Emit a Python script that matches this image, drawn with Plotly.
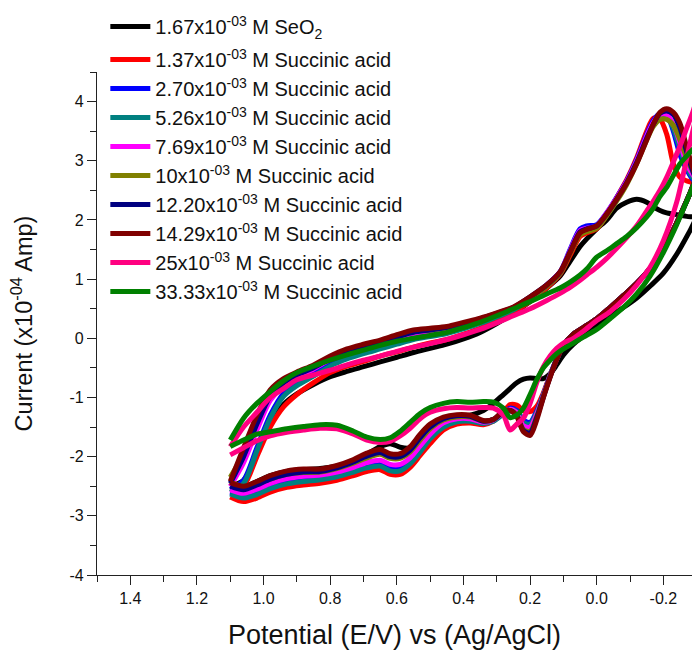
import plotly.graph_objects as go

# Potential grid (V vs Ag/AgCl): forward sweep 1.1 V -> -0.32 V, then reverse sweep back to 1.1 V
fwd_potential = [1.10, 1.06, 1.02, 0.98, 0.93, 0.88, 0.83, 0.78, 0.73, 0.69, 0.65, 0.62, 0.59, 0.56,
                 0.53, 0.50, 0.46, 0.42, 0.38, 0.34, 0.31, 0.28, 0.26, 0.24, 0.22, 0.20, 0.18, 0.16,
                 0.14, 0.12, 0.10, 0.07, 0.04, 0.00, -0.04, -0.08, -0.12, -0.16, -0.20, -0.24, -0.28, -0.32]
rev_potential = [-0.32, -0.29, -0.27, -0.25, -0.23, -0.21, -0.19, -0.17, -0.15, -0.12, -0.09, -0.06,
                 -0.03, 0.00, 0.03, 0.05, 0.08, 0.11, 0.15, 0.20, 0.25, 0.30, 0.35, 0.40, 0.45, 0.50,
                 0.55, 0.60, 0.65, 0.70, 0.75, 0.80, 0.85, 0.90, 0.94, 0.98, 1.02, 1.06, 1.10]

# Current (x10^-4 A), forward sweep
seo2_fwd = [-2.45, -2.5, -2.42, -2.32, -2.25, -2.22, -2.2, -2.16, -2.1, -1.96, -1.83, -1.78, -1.84, -1.85,
            -1.7, -1.5, -1.36, -1.31, -1.3, -1.22, -1.1, -0.95, -0.85, -0.75, -0.69, -0.67, -0.68, -0.68,
            -0.6, -0.45, -0.28, -0.1, 0.04, 0.22, 0.38, 0.52, 0.68, 0.88, 1.1, 1.42, 1.82, 2.25]
sa137_fwd = [-2.68, -2.76, -2.7, -2.6, -2.52, -2.48, -2.45, -2.4, -2.32, -2.25, -2.22, -2.3, -2.3, -2.18,
             -1.98, -1.78, -1.55, -1.45, -1.43, -1.46, -1.4, -1.25, -1.12, -1.13, -1.22, -1.24, -1.15, -0.92,
             -0.62, -0.35, -0.12, 0.07, 0.18, 0.33, 0.52, 0.72, 0.93, 1.18, 1.5, 1.95, 2.45, 3.0]
sa270_fwd = [-2.6, -2.66, -2.6, -2.5, -2.42, -2.38, -2.35, -2.3, -2.22, -2.15, -2.12, -2.2, -2.2, -2.08,
             -1.88, -1.66, -1.46, -1.38, -1.37, -1.42, -1.38, -1.26, -1.18, -1.22, -1.38, -1.42, -1.23, -0.95,
             -0.63, -0.35, -0.12, 0.07, 0.18, 0.33, 0.52, 0.72, 0.93, 1.18, 1.5, 1.95, 2.45, 3.0]
sa526_fwd = [-2.63, -2.7, -2.64, -2.54, -2.46, -2.42, -2.39, -2.34, -2.26, -2.19, -2.16, -2.24, -2.24, -2.12,
             -1.92, -1.7, -1.5, -1.41, -1.4, -1.44, -1.4, -1.28, -1.2, -1.24, -1.42, -1.45, -1.25, -0.95,
             -0.63, -0.35, -0.12, 0.07, 0.18, 0.33, 0.52, 0.72, 0.93, 1.18, 1.5, 1.95, 2.45, 3.0]
sa769_fwd = [-2.56, -2.62, -2.55, -2.45, -2.37, -2.33, -2.31, -2.26, -2.18, -2.1, -2.06, -2.13, -2.13, -2.02,
             -1.82, -1.62, -1.43, -1.36, -1.36, -1.42, -1.38, -1.25, -1.2, -1.26, -1.48, -1.5, -1.28, -0.97,
             -0.64, -0.35, -0.12, 0.07, 0.18, 0.33, 0.52, 0.72, 0.93, 1.18, 1.5, 1.95, 2.45, 3.0]
sa10_fwd = [-2.42, -2.52, -2.46, -2.38, -2.3, -2.27, -2.26, -2.2, -2.11, -2.02, -1.96, -2.03, -2.03, -1.92,
            -1.72, -1.53, -1.38, -1.33, -1.33, -1.4, -1.37, -1.24, -1.22, -1.3, -1.54, -1.57, -1.32, -0.98,
            -0.65, -0.35, -0.12, 0.07, 0.18, 0.33, 0.52, 0.72, 0.93, 1.18, 1.5, 1.95, 2.45, 3.0]
sa1220_fwd = [-2.5, -2.56, -2.48, -2.38, -2.3, -2.26, -2.25, -2.19, -2.09, -1.99, -1.93, -2.0, -2.0, -1.89,
              -1.68, -1.5, -1.36, -1.31, -1.32, -1.4, -1.37, -1.24, -1.22, -1.31, -1.56, -1.6, -1.34, -0.99,
              -0.65, -0.35, -0.12, 0.07, 0.18, 0.33, 0.52, 0.72, 0.93, 1.18, 1.5, 1.95, 2.45, 3.0]
sa1429_fwd = [-2.44, -2.5, -2.42, -2.32, -2.24, -2.21, -2.21, -2.15, -2.05, -1.94, -1.88, -1.95, -1.95, -1.83,
              -1.62, -1.45, -1.33, -1.29, -1.3, -1.39, -1.37, -1.23, -1.22, -1.32, -1.58, -1.64, -1.38, -1.0,
              -0.66, -0.36, -0.12, 0.07, 0.18, 0.33, 0.52, 0.72, 0.93, 1.18, 1.5, 1.95, 2.45, 3.0]
sa25_fwd = [-1.97, -1.85, -1.73, -1.65, -1.59, -1.55, -1.52, -1.53, -1.62, -1.72, -1.76, -1.74, -1.65, -1.52,
            -1.36, -1.25, -1.19, -1.17, -1.18, -1.17, -1.18, -1.3, -1.55, -1.45, -1.35, -1.1, -0.75, -0.48,
            -0.3, -0.17, -0.08, 0.0, 0.12, 0.3, 0.45, 0.65, 0.9, 1.2, 1.65, 2.3, 3.3, 4.3]
sa3333_fwd = [-1.83, -1.72, -1.62, -1.58, -1.53, -1.49, -1.46, -1.47, -1.57, -1.67, -1.71, -1.68, -1.57, -1.42,
              -1.27, -1.17, -1.1, -1.07, -1.08, -1.07, -1.08, -1.18, -1.34, -1.3, -1.18, -0.95, -0.7, -0.5,
              -0.37, -0.26, -0.18, -0.08, 0.02, 0.15, 0.33, 0.52, 0.75, 1.05, 1.45, 1.92, 2.45, 3.0]

# Current (x10^-4 A), reverse sweep
seo2_rev = [2.03, 2.05, 2.06, 2.08, 2.1, 2.12, 2.16, 2.22, 2.3, 2.35, 2.3, 2.2, 2.0, 1.85, 1.68, 1.55, 1.3,
            1.05, 0.85, 0.62, 0.42, 0.25, 0.1, -0.01, -0.1, -0.17, -0.24, -0.32, -0.4, -0.48, -0.56, -0.65,
            -0.78, -0.94, -1.12, -1.45, -1.95, -2.4, -2.5]
sa137_rev = [2.6, 2.63, 2.66, 2.72, 2.95, 3.45, 3.7, 3.72, 3.5, 3.05, 2.68, 2.38, 2.08, 1.85, 1.78, 1.72, 1.4,
             1.08, 0.85, 0.62, 0.44, 0.3, 0.17, 0.07, -0.02, -0.08, -0.15, -0.23, -0.3, -0.39, -0.47, -0.58,
             -0.75, -0.95, -1.16, -1.5, -2.0, -2.5, -2.6]
sa270_rev = [2.55, 2.67, 2.85, 3.1, 3.5, 3.78, 3.8, 3.68, 3.45, 3.02, 2.66, 2.38, 2.12, 1.92, 1.9, 1.85, 1.5,
             1.12, 0.9, 0.68, 0.5, 0.38, 0.27, 0.18, 0.1, 0.05, 0.0, -0.07, -0.15, -0.23, -0.32, -0.43, -0.6,
             -0.76, -0.93, -1.3, -1.85, -2.4, -2.55]
sa526_rev = [2.55, 2.7, 2.9, 3.2, 3.55, 3.75, 3.75, 3.63, 3.4, 3.0, 2.64, 2.36, 2.1, 1.88, 1.84, 1.8, 1.47,
             1.1, 0.88, 0.66, 0.48, 0.36, 0.25, 0.16, 0.08, 0.03, -0.02, -0.1, -0.18, -0.26, -0.35, -0.47,
             -0.64, -0.8, -0.98, -1.35, -1.9, -2.45, -2.6]
sa769_rev = [2.5, 2.75, 2.95, 3.3, 3.62, 3.78, 3.78, 3.65, 3.42, 3.0, 2.65, 2.37, 2.12, 1.9, 1.86, 1.82, 1.48,
             1.12, 0.9, 0.69, 0.51, 0.4, 0.3, 0.22, 0.15, 0.11, 0.08, 0.0, -0.08, -0.16, -0.25, -0.36, -0.52,
             -0.66, -0.8, -1.05, -1.55, -2.1, -2.5]
sa10_rev = [2.5, 2.8, 3.05, 3.35, 3.6, 3.7, 3.7, 3.58, 3.35, 2.95, 2.6, 2.32, 2.07, 1.86, 1.8, 1.75, 1.43,
            1.1, 0.88, 0.68, 0.51, 0.41, 0.32, 0.25, 0.18, 0.14, 0.11, 0.03, -0.05, -0.13, -0.21, -0.33,
            -0.48, -0.6, -0.72, -0.93, -1.4, -1.95, -2.35]
sa1220_rev = [2.45, 2.8, 3.15, 3.55, 3.78, 3.84, 3.8, 3.62, 3.38, 2.97, 2.63, 2.35, 2.1, 1.9, 1.85, 1.8, 1.46,
              1.12, 0.9, 0.7, 0.52, 0.42, 0.33, 0.25, 0.18, 0.14, 0.1, 0.02, -0.06, -0.14, -0.22, -0.34,
              -0.5, -0.62, -0.75, -0.98, -1.45, -2.0, -2.45]
sa1429_rev = [2.4, 2.85, 3.23, 3.63, 3.82, 3.88, 3.82, 3.62, 3.35, 2.95, 2.62, 2.35, 2.1, 1.9, 1.84, 1.78,
              1.45, 1.12, 0.9, 0.7, 0.53, 0.43, 0.34, 0.27, 0.2, 0.17, 0.14, 0.06, -0.03, -0.1, -0.18, -0.3,
              -0.45, -0.57, -0.68, -0.87, -1.3, -1.85, -2.42]
sa25_rev = [4.4, 3.85, 3.55, 3.25, 2.98, 2.72, 2.5, 2.32, 2.15, 1.9, 1.7, 1.52, 1.35, 1.2, 1.07, 0.98, 0.86,
            0.76, 0.64, 0.5, 0.38, 0.26, 0.15, 0.06, -0.02, -0.09, -0.15, -0.22, -0.3, -0.37, -0.45, -0.54,
            -0.62, -0.7, -0.85, -1.0, -1.25, -1.5, -1.83]
sa3333_rev = [3.3, 3.2, 3.08, 2.95, 2.75, 2.55, 2.4, 2.2, 2.05, 1.87, 1.72, 1.6, 1.48, 1.37, 1.17, 1.07, 0.95,
              0.85, 0.75, 0.62, 0.5, 0.38, 0.27, 0.18, 0.1, 0.05, 0.0, -0.05, -0.12, -0.2, -0.28, -0.37,
              -0.47, -0.58, -0.72, -0.9, -1.1, -1.35, -1.72]

series_names = [
    "1.67x10<sup>-03</sup> M SeO<sub>2</sub>",
    "1.37x10<sup>-03</sup> M Succinic acid",
    "2.70x10<sup>-03</sup> M Succinic acid",
    "5.26x10<sup>-03</sup> M Succinic acid",
    "7.69x10<sup>-03</sup> M Succinic acid",
    "10x10<sup>-03</sup> M Succinic acid",
    "12.20x10<sup>-03</sup> M Succinic acid",
    "14.29x10<sup>-03</sup> M Succinic acid",
    "25x10<sup>-03</sup> M Succinic acid",
    "33.33x10<sup>-03</sup> M Succinic acid",
]
series_fwd = [seo2_fwd, sa137_fwd, sa270_fwd, sa526_fwd, sa769_fwd, sa10_fwd, sa1220_fwd, sa1429_fwd,
              sa25_fwd, sa3333_fwd]
series_rev = [seo2_rev, sa137_rev, sa270_rev, sa526_rev, sa769_rev, sa10_rev, sa1220_rev, sa1429_rev,
              sa25_rev, sa3333_rev]
series_colors = ["#000000", "#ff0000", "#0000ff", "#008080", "#ff00ff", "#808000", "#000080", "#800000",
                 "#ff0080", "#008000"]

x_ticks = [1.4, 1.2, 1.0, 0.8, 0.6, 0.4, 0.2, 0.0, -0.2]
x_tick_labels = ["1.4", "1.2", "1.0", "0.8", "0.6", "0.4", "0.2", "0.0", "-0.2"]
y_ticks = [-4, -3, -2, -1, 0, 1, 2, 3, 4]
y_tick_labels = ["-4", "-3", "-2", "-1", "0", "1", "2", "3", "4"]

FONT = "Arial, 'Liberation Sans', sans-serif"

fig = go.Figure()
for i, (name, fwd, rev, color) in enumerate(zip(series_names, series_fwd, series_rev, series_colors)):
    fig.add_trace(go.Scatter(
        x=fwd_potential + rev_potential,
        y=fwd + rev,
        mode="lines",
        name=name,
        legendgroup="seo2" if i == 0 else "acid",
        line=dict(color=color, width=5, shape="spline", smoothing=0.8),
    ))

axis_common = dict(
    showline=True, linecolor="#222222", linewidth=1.3, mirror=False,
    showgrid=False, zeroline=False,
    ticks="outside", ticklen=9, tickwidth=1.2, tickcolor="#222222",
    tickfont=dict(family=FONT, size=16, color="#111111"),
)

fig.update_xaxes(
    range=[1.5, -0.286], tickmode="array", tickvals=x_ticks, ticktext=x_tick_labels,
    minor=dict(dtick=0.1, tick0=0, ticklen=6, tickwidth=1.2, tickcolor="#222222", ticks="outside"),
    title=dict(text="Potential (E/V) vs (Ag/AgCl)", font=dict(family=FONT, size=27, color="#111111"),
               standoff=18),
    **axis_common,
)
fig.update_yaxes(
    range=[-4, 4.5], tickmode="array", tickvals=y_ticks, ticktext=y_tick_labels,
    minor=dict(dtick=0.5, tick0=0, ticklen=6, tickwidth=1.2, tickcolor="#222222", ticks="outside"),
    title=dict(text="Current (x10<sup>-04</sup> Amp)", font=dict(family=FONT, size=23.5, color="#111111"),
               standoff=30),
    **axis_common,
)

fig.update_layout(
    width=692, height=652,
    margin=dict(l=97, r=0, t=72, b=77),
    paper_bgcolor="white", plot_bgcolor="white",
    font=dict(family=FONT, color="#111111"),
    showlegend=True,
    legend=dict(
        x=0.014, y=1.129, xanchor="left", yanchor="top",
        bgcolor="rgba(0,0,0,0)", borderwidth=0,
        font=dict(family=FONT, size=20, color="#111111"),
        tracegroupgap=4, itemwidth=40,
    ),
)

fig.write_html("out.html")
